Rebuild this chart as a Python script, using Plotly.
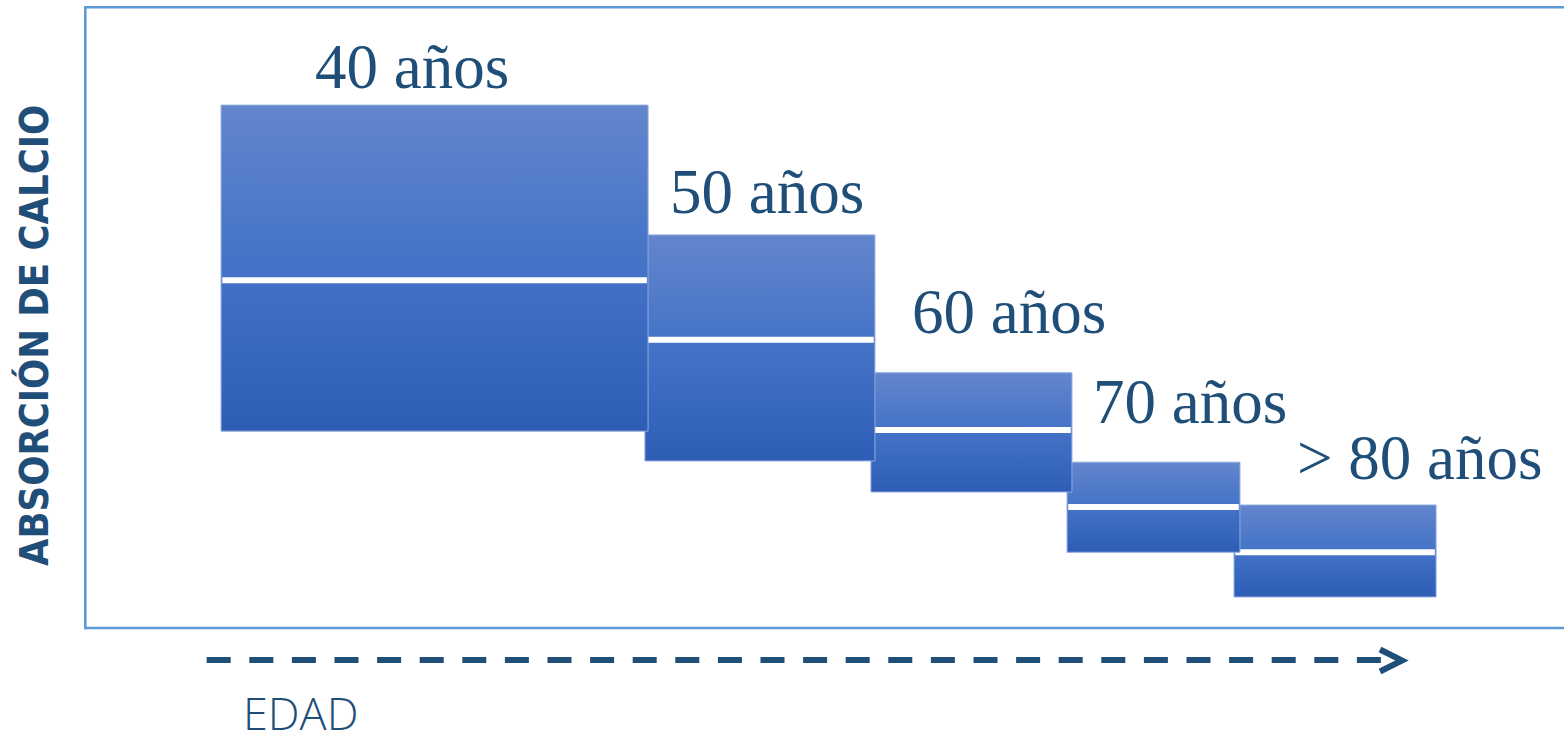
import plotly.graph_objects as go

# Age groups and calcium absorption ranges (arbitrary units, 0-100 scale)
ages = ["40 años", "50 años", "60 años", "70 años", "> 80 años"]
x_left = [9.20, 37.86, 53.14, 66.40, 77.69]
x_right = [38.07, 53.41, 66.73, 78.09, 91.35]
y_low = [31.7, 26.9, 21.9, 12.2, 5.0]
y_high = [84.2, 63.3, 41.1, 26.7, 19.8]
y_mid = [56.0, 46.4, 31.9, 19.5, 12.2]

# Label anchor points (left edge / bottom of text) in axis units
label_x = [15.4, 39.4, 55.8, 68.0, 81.8]
label_y = [84.4, 64.3, 44.9, 30.4, 21.4]

W, H = 1564, 735
M_L, M_T, M_B, M_R = 85, 7, 107, 0
PW = W - M_L - M_R
PH = H - M_T - M_B

DARK = "#1f4e79"
BORDER = "#5b9bd5"
GRAD = [[0.0, "#2e5db6"], [0.5, "#4372c7"], [1.0, "#6386cc"]]


def px_x(p):
    return (p - M_L) / PW


def px_y(p):
    return (M_T + PH - p) / PH


fig = go.Figure()

# later age groups first so earlier boxes sit on top where they touch
for i in reversed(range(len(ages))):
    l, r, lo, hi, mid = x_left[i], x_right[i], y_low[i], y_high[i], y_mid[i]
    fig.add_trace(go.Scatter(
        x=[l, r, r, l, l], y=[lo, lo, hi, hi, lo],
        mode="lines", fill="toself",
        fillgradient=dict(type="vertical", colorscale=GRAD),
        line=dict(color="#8eaadf", width=1),
        hoverinfo="skip", showlegend=False,
    ))
    fig.add_trace(go.Scatter(
        x=[l + 0.08, r - 0.08], y=[mid, mid], mode="lines",
        line=dict(color="white", width=6),
        hoverinfo="skip", showlegend=False,
    ))

annotations = []
for name, lx, ly in zip(ages, label_x, label_y):
    annotations.append(dict(
        x=lx, y=ly, xref="x", yref="y", text=name, showarrow=False,
        xanchor="left", yanchor="bottom",
        font=dict(family="Liberation Serif, Times New Roman, serif", size=63, color=DARK),
    ))

annotations.append(dict(
    x=px_x(34), y=px_y(336), xref="paper", yref="paper",
    text="ABSORCIÓN DE CALCIO", textangle=-90, showarrow=False,
    xanchor="center", yanchor="middle",
    font=dict(family="DejaVu Sans Condensed, Liberation Sans Narrow, sans-serif",
              size=39.5, color=DARK, weight="bold"),
))

annotations.append(dict(
    x=px_x(300), y=px_y(712), xref="paper", yref="paper",
    text="EDAD", showarrow=False, xanchor="center", yanchor="middle",
    font=dict(family="Open Sans, Lato, sans-serif", size=45, color=DARK, weight=300),
))

shapes = [
    # frame around the plotting area (open on the right)
    dict(type="line", xref="paper", yref="paper", layer="below",
         x0=px_x(84), x1=px_x(1570), y0=px_y(7.3), y1=px_y(7.3),
         line=dict(color=BORDER, width=2.6)),
    dict(type="line", xref="paper", yref="paper", layer="below",
         x0=px_x(84), x1=px_x(1570), y0=px_y(628), y1=px_y(628),
         line=dict(color=BORDER, width=2.6)),
    dict(type="line", xref="paper", yref="paper", layer="below",
         x0=px_x(85.3), x1=px_x(85.3), y0=px_y(6), y1=px_y(629.3),
         line=dict(color=BORDER, width=2.6)),
    # dashed age arrow below the plot
    dict(type="line", xref="paper", yref="paper",
         x0=px_x(206.7), x1=px_x(1398), y0=px_y(660), y1=px_y(660),
         line=dict(color=DARK, width=6, dash="24px,18.6px")),
    dict(type="path", xref="paper", yref="paper",
         path=f"M {px_x(1380)},{px_y(649.5)} L {px_x(1402)},{px_y(660.5)} L {px_x(1380)},{px_y(671.5)}",
         line=dict(color=DARK, width=6)),
]

fig.update_layout(
    width=W, height=H,
    margin=dict(l=M_L, r=M_R, t=M_T, b=M_B),
    paper_bgcolor="white", plot_bgcolor="white",
    showlegend=False,
    annotations=annotations,
    shapes=shapes,
    xaxis=dict(range=[0, 100], showgrid=False, zeroline=False, showticklabels=False,
               ticks="", showline=False, fixedrange=True),
    yaxis=dict(range=[0, 100], showgrid=False, zeroline=False, showticklabels=False,
               ticks="", showline=False, fixedrange=True),
)

fig.write_html("out.html", config={"displayModeBar": False})
